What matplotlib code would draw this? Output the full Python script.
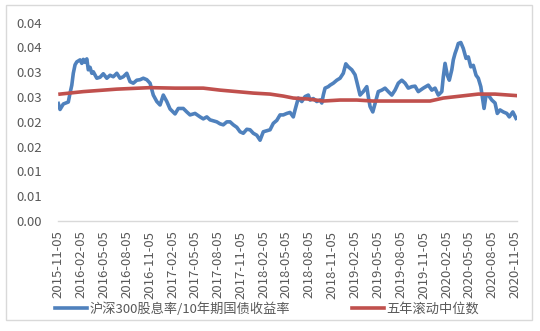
import numpy as np
import pandas as pd
import matplotlib
matplotlib.use('Agg')
import matplotlib.pyplot as plt
from matplotlib.patches import Rectangle
from matplotlib.ticker import FuncFormatter

plt.rcParams['font.family'] = ['Noto Sans CJK SC', 'DejaVu Sans']

#----data: days counted from the first trading day----
start_date = '2015-11-05'

blue_days = [0, 7, 20, 40, 47, 54, 60, 67, 74, 87, 94, 100, 107, 114, 120, 127,
             134, 140, 154, 167, 180, 194, 207, 220, 234, 247, 260, 274, 287,
             300, 314, 327, 340, 354, 367, 380, 394, 407, 420, 434, 447, 467,
             480, 500, 514, 527, 547, 567, 580, 594, 607, 634, 647, 660, 674,
             687, 700, 714, 727, 740, 754, 767, 780, 794, 807, 820, 834, 847,
             860, 874, 887, 900, 914, 927, 940, 947, 960, 974, 987, 1000, 1007,
             1020, 1034, 1047, 1054, 1060, 1067, 1080, 1087, 1100, 1114, 1127,
             1140, 1150, 1160, 1174, 1187, 1194, 1207, 1220, 1234, 1240, 1247,
             1258, 1267, 1280, 1294, 1307, 1320, 1334, 1347, 1360, 1374, 1387,
             1400, 1414, 1427, 1440, 1460, 1480, 1494, 1507, 1520, 1534, 1540,
             1547, 1556, 1564, 1574, 1580, 1587, 1594, 1600, 1610, 1620, 1631,
             1640, 1650, 1660, 1671, 1680, 1690, 1698, 1703, 1711, 1720, 1734,
             1747, 1756, 1767, 1780, 1794, 1804, 1818, 1831]
blue_vals = [0.0237, 0.0225, 0.0236, 0.0240, 0.0258, 0.0274, 0.0298, 0.0315,
             0.0321, 0.0325, 0.0318, 0.0326, 0.0320, 0.0327, 0.0305, 0.0310,
             0.0298, 0.0301, 0.0288, 0.0290, 0.0297, 0.0288, 0.0294, 0.0291,
             0.0298, 0.0288, 0.0291, 0.0298, 0.0281, 0.0278, 0.0284, 0.0285,
             0.0288, 0.0285, 0.0278, 0.0254, 0.0241, 0.0234, 0.0254, 0.0241,
             0.0226, 0.0216, 0.0227, 0.0227, 0.0220, 0.0214, 0.0217, 0.0210,
             0.0206, 0.0210, 0.0204, 0.0200, 0.0196, 0.0194, 0.0200, 0.0200,
             0.0194, 0.0189, 0.0180, 0.0177, 0.0185, 0.0184, 0.0177, 0.0173,
             0.0163, 0.0180, 0.0182, 0.0184, 0.0197, 0.0203, 0.0214, 0.0214,
             0.0217, 0.0219, 0.0210, 0.0224, 0.0248, 0.0241, 0.0251, 0.0254,
             0.0244, 0.0247, 0.0241, 0.0244, 0.0238, 0.0254, 0.0268, 0.0271,
             0.0274, 0.0278, 0.0284, 0.0288, 0.0298, 0.0317, 0.0311, 0.0305,
             0.0295, 0.0281, 0.0254, 0.0261, 0.0271, 0.0251, 0.0231, 0.0220,
             0.0237, 0.0261, 0.0264, 0.0268, 0.0261, 0.0254, 0.0264, 0.0278,
             0.0284, 0.0278, 0.0268, 0.0271, 0.0272, 0.0261, 0.0268, 0.0274,
             0.0264, 0.0268, 0.0254, 0.0261, 0.0291, 0.0318, 0.0294, 0.0284,
             0.0305, 0.0325, 0.0338, 0.0348, 0.0358, 0.0360, 0.0348, 0.0328,
             0.0331, 0.0311, 0.0314, 0.0294, 0.0288, 0.0271, 0.0244, 0.0227,
             0.0254, 0.0254, 0.0244, 0.0238, 0.0217, 0.0224, 0.0220, 0.0217,
             0.0210, 0.0220, 0.0207]

red_days = [7, 100, 234, 367, 467, 580, 647, 714, 780, 847, 900, 940, 1000,
            1060, 1127, 1194, 1258, 1427, 1487, 1540, 1610, 1680, 1747, 1831]
red_vals = [0.0256, 0.0261, 0.0266, 0.0269, 0.0268, 0.0268, 0.0264, 0.0261,
            0.0258, 0.0256, 0.0252, 0.0248, 0.0246, 0.0242, 0.0244, 0.0244,
            0.0242, 0.0242, 0.0242, 0.0248, 0.0252, 0.0256, 0.0256, 0.0253]

series_names = ['沪深300股息率/10年期国债收益率', '五年滚动中位数']
tick_dates = pd.date_range(start_date, periods=21, freq=pd.DateOffset(months=3))
y_ticks = np.arange(0, 0.0401, 0.005)

blue_dates = np.datetime64(start_date) + np.array(blue_days).astype('timedelta64[D]')
red_dates = np.datetime64(start_date) + np.array(red_days).astype('timedelta64[D]')

#----figure----
fig = plt.figure(figsize=(5.4, 3.31), dpi=100, facecolor='white')
ax = fig.add_axes([57.8 / 540, 1 - 221 / 331, 459 / 540, 198.3 / 331])

ax.plot(blue_dates, blue_vals, color='#4F81BD', lw=2.6, label=series_names[0],
        solid_joinstyle='round')
ax.plot(red_dates, red_vals, color='#C0504D', lw=2.6, label=series_names[1])

ax.set_xlim(np.datetime64('2015-11-03'), np.datetime64('2020-11-12'))
ax.set_ylim(0, 0.04)

ax.set_xticks(tick_dates)
ax.set_xticklabels([d.strftime('%Y-%m-%d') for d in tick_dates], rotation=90)
ax.set_yticks(y_ticks)
# Excel-style half-up rounding to two decimals
ax.yaxis.set_major_formatter(
    FuncFormatter(lambda v, p: f'{np.floor(v * 100 + 0.5 + 1e-9) / 100:.2f}'))

ax.tick_params(axis='both', length=0, colors='#595959', labelsize=9.5)
ax.tick_params(axis='y', pad=11.5)
ax.tick_params(axis='x', pad=7)
for s in ['top', 'right', 'left']:
    ax.spines[s].set_visible(False)
ax.spines['bottom'].set_color('#D9D9D9')
ax.spines['bottom'].set_linewidth(1)

#----legend and outer frame----
fig.legend(loc='center left', bbox_to_anchor=(55 / 540, 1 - 309 / 331), ncol=2,
           frameon=False, fontsize=9.5, handlelength=2.4, handletextpad=0.2,
           columnspacing=4.7, labelcolor='#595959', borderaxespad=0,
           borderpad=0)
fig.patches.append(Rectangle((6 / 540, 1 - 320 / 331), 526 / 540, 315 / 331,
                             transform=fig.transFigure, fill=False,
                             edgecolor='#D9D9D9', lw=1))

fig.savefig('out.png', dpi=100, facecolor='white')
